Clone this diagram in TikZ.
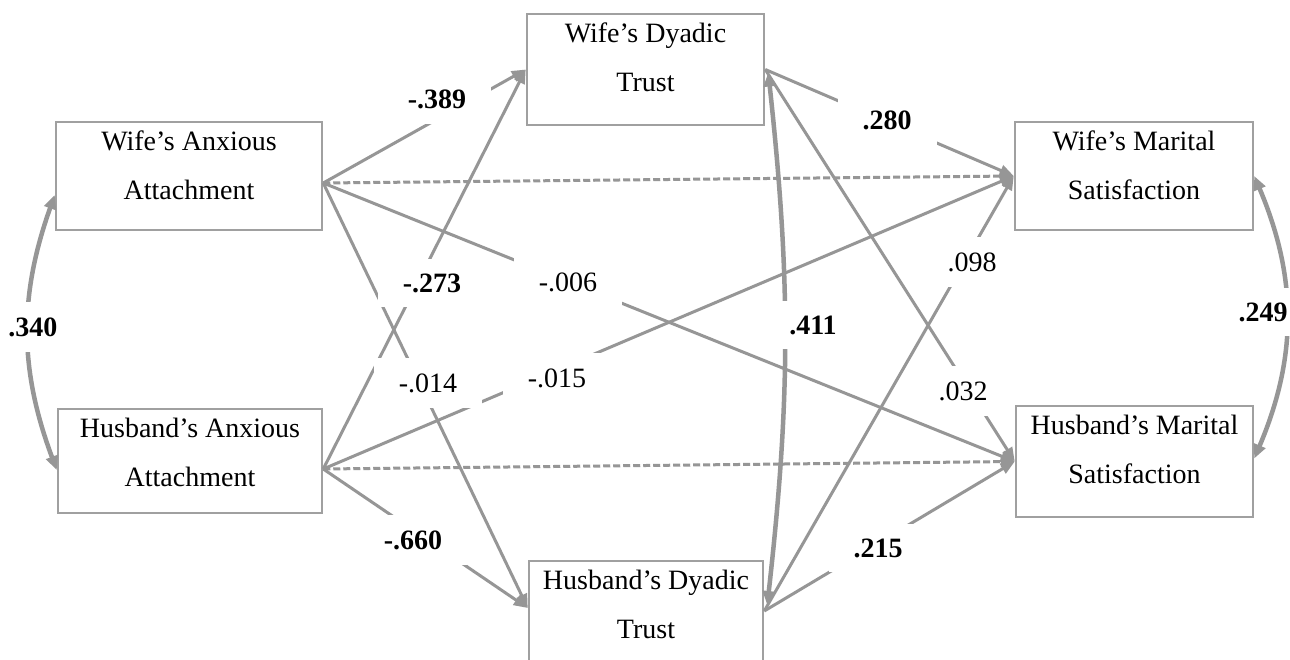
\documentclass[tikz,border=0pt]{standalone}
\usepackage{fontspec}
\setmainfont{Liberation Serif}
\usetikzlibrary{arrows.meta}
\definecolor{lc}{RGB}{150,150,150}
\definecolor{bc}{RGB}{160,160,160}
\newcommand{\bxt}[3]{\parbox[c][#1][t]{#2}{\centering\vspace*{9pt}#3}}
\begin{document}
\begin{tikzpicture}[x=1pt,y=-1pt,
  box/.style={draw=bc, line width=2.5pt, fill=white, inner sep=0pt, font=\fontsize{28}{49}\selectfont},
  conn/.style={draw=lc, line width=3pt, -{Triangle[length=14pt,width=11pt]}},
  dconn/.style={conn, dash pattern=on 7pt off 3pt},
  corr/.style={draw=lc, line width=4.5pt, {Triangle[length=14pt,width=12pt]}-{Triangle[length=14pt,width=12pt]}},
  lab/.style={fill=white, inner xsep=25pt, inner ysep=15pt, font=\fontsize{28}{34}\selectfont},
  blab/.style={lab, font=\fontsize{28}{34}\selectfont\bfseries}]
\useasboundingbox (0,0) rectangle (1290,660);
\clip (0,0) rectangle (1290,660);
\fill[white] (0,0) rectangle (1290,660);

% boxes
\node[box] (wa)  at (189,176)   {\bxt{108pt}{266pt}{Wife’s Anxious\\Attachment}};
\node[box] (ha)  at (190,461)   {\bxt{104pt}{264pt}{Husband’s Anxious\\Attachment}};
\node[box] (wdt) at (645.5,69.5) {\bxt{111pt}{237pt}{Wife’s Dyadic\\Trust}};
\node[box] (hdt) at (646,611)   {\bxt{100pt}{234pt}{Husband’s Dyadic\\Trust}};
\node[box] (wms) at (1134,176)  {\bxt{108pt}{238pt}{Wife’s Marital\\Satisfaction}};
\node[box] (hms) at (1134.5,461.5) {\bxt{111pt}{237pt}{Husband’s Marital\\Satisfaction}};

% paths from anxious attachment
\draw[conn]  ([yshift=-7pt]wa.east) -- (wdt.west);
\draw[dconn] ([yshift=-7pt]wa.east) -- (wms.west);
\draw[conn]  ([yshift=-7pt]wa.east) -- (hms.west);
\draw[conn]  ([yshift=-7pt]wa.east) -- ([yshift=3pt]hdt.west);
\draw[conn]  ([yshift=-8pt]ha.east) -- (wdt.west);
\draw[conn]  ([yshift=-8pt]ha.east) -- (wms.west);
\draw[dconn] ([yshift=-8pt]ha.east) -- (hms.west);
\draw[conn]  ([yshift=-8pt]ha.east) -- ([yshift=3pt]hdt.west);
% paths from dyadic trust
\draw[conn] (wdt.east) -- (wms.west);
\draw[conn] (wdt.east) -- (hms.west);
\draw[conn] (hdt.east) -- (wms.west);
\draw[conn] (hdt.east) -- (hms.west);
% correlations
\draw[corr] ([yshift=-19pt]wa.west) to[bend right=20] ([yshift=-9pt]ha.west);
\draw[corr] ([xshift=3pt,yshift=-3pt]wdt.east) to[bend left=6.3] ([xshift=3pt,yshift=6pt]hdt.east);
\draw[corr] (wms.east) to[bend left=23] ([yshift=3pt]hms.east);

% labels
\node[blab] (l389) at (437,99)  {-.389};
\node[blab] (l280) at (887,120) {.280};
\node[blab] (l273) at (432,283) {-.273};
\node[lab]  (l006) at (568,282) {-.006};
\node[lab]  (l014) at (428,383) {-.014};
\node[lab]  (l015) at (557,378) {-.015};
\node[blab] (l411) at (813,325) {.411};
\node[lab]  (l098) at (972,262) {.098};
\node[lab]  (l032) at (963,391) {.032};
\node[blab] (l215) at (878,548) {.215};
\node[blab] (l660) at (413,540) {-.660};
\node[blab] (l340) at (33,327)  {.340};
\node[blab] (l249) at (1263,312) {.249};
\end{tikzpicture}
\end{document}
